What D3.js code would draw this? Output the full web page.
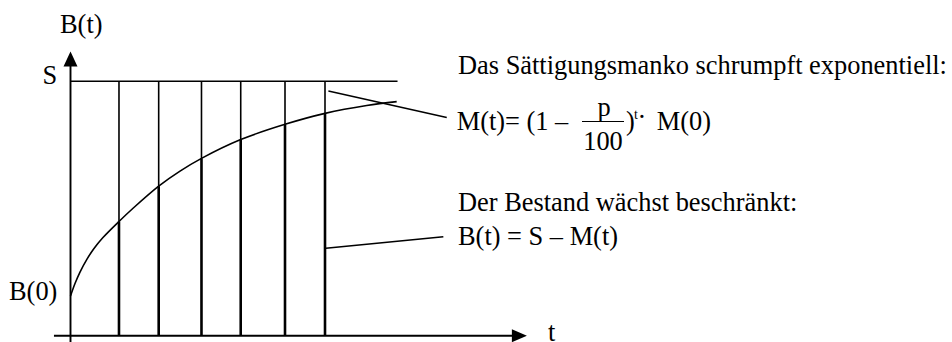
<!DOCTYPE html>
<html>
<head>
<meta charset="utf-8">
<script src="https://cdn.jsdelivr.net/npm/d3@7/dist/d3.min.js"></script>
<style>
  html, body { margin: 0; padding: 0; background: #fff; }
  svg { display: block; }
  text { font-family: "Liberation Serif", "Times New Roman", serif; fill: #000; }
</style>
</head>
<body>
<svg id="chart" width="952" height="342"></svg>
<script>
// ---------- data (t in time steps, B in % of the saturation S) ----------
const saturation = 100;                 // S
const curveT = [0, 0.106, 0.224, 0.389, 0.554, 0.766, 1.143, 1.481, 2.079, 2.582, 3.088, 4.013, 5.057, 6.0, 6.983, 7.69];
const curveB = [15.6, 20.5, 25.0, 30.1, 34.3, 38.6, 44.9, 50.2, 58.8, 64.7, 69.7, 77.1, 83.1, 87.4, 90.5, 92.0];
const stepT = [1.143, 2.079, 3.088, 4.013, 5.057, 6.0];
const stepB = [44.9, 58.8, 69.7, 77.1, 83.1, 87.4];
const sLineEnd = 7.71;
const xAxisRange = [-0.39, 10.76];
const yAxisRange = [-2.5, 111.7];
const leaderM = [[6.08, 96.2], [8.87, 85.8]];
const leaderB = [[6.02, 34.4], [8.79, 38.9]];
const labels = { yAxis: "B(t)", xAxis: "t", s: "S", b0: "B(0)" };

// ---------- scales ----------
const svg = d3.select("#chart");
const x = d3.scaleLinear().domain([0, 6]).range([70.5, 325]);
const y = d3.scaleLinear().domain([0, saturation]).range([335.7, 81.3]);

const g = svg.append("g");

// S line
g.append("line")
  .attr("x1", x(0)).attr("x2", x(sLineEnd))
  .attr("y1", y(saturation)).attr("y2", y(saturation))
  .attr("stroke", "#000").attr("stroke-width", 1.6);

// vertical step lines: thin part above the curve (manko), thick part below (Bestand)
stepT.forEach((t, i) => {
  g.append("line")
    .attr("x1", x(t)).attr("x2", x(t))
    .attr("y1", y(saturation)).attr("y2", y(stepB[i]))
    .attr("stroke", "#000").attr("stroke-width", 1.6);
  g.append("line")
    .attr("x1", x(t)).attr("x2", x(t))
    .attr("y1", y(stepB[i])).attr("y2", y(0))
    .attr("stroke", "#000").attr("stroke-width", 2.6);
});

// curve B(t)
const pts = curveT.map((t, i) => [t, curveB[i]]);
g.append("path")
  .attr("d", d3.line().x(d => x(d[0])).y(d => y(d[1])).curve(d3.curveCatmullRom.alpha(0.5))(pts))
  .attr("fill", "none").attr("stroke", "#000").attr("stroke-width", 1.6);

// axes
const xTip = x(xAxisRange[1]);
const yTip = y(yAxisRange[1]);
g.append("line")
  .attr("x1", x(xAxisRange[0])).attr("x2", xTip - 14)
  .attr("y1", y(0)).attr("y2", y(0))
  .attr("stroke", "#000").attr("stroke-width", 1.9);
g.append("path")
  .attr("d", `M${xTip},${y(0)} L${xTip - 15},${y(0) - 6.5} L${xTip - 15},${y(0) + 6.5} Z`)
  .attr("fill", "#000");
g.append("line")
  .attr("x1", x(0)).attr("x2", x(0))
  .attr("y1", y(yAxisRange[0])).attr("y2", yTip + 14)
  .attr("stroke", "#000").attr("stroke-width", 1.9);
g.append("path")
  .attr("d", `M${x(0)},${yTip} L${x(0) - 7},${yTip + 15} L${x(0) + 7},${yTip + 15} Z`)
  .attr("fill", "#000");

// leader lines
[leaderM, leaderB].forEach(l => {
  g.append("line")
    .attr("x1", x(l[0][0])).attr("y1", y(l[0][1]))
    .attr("x2", x(l[1][0])).attr("y2", y(l[1][1]))
    .attr("stroke", "#000").attr("stroke-width", 1.5);
});

// axis labels
const fs = 26.4;
function txt(s, px, py, size, anchor) {
  return svg.append("text").attr("x", px).attr("y", py)
    .attr("font-size", size || fs).attr("text-anchor", anchor || "start").text(s);
}
txt(labels.yAxis, 60, 33);
txt(labels.s, 42.5, 83.5);
txt(labels.b0, 9, 300);
txt(labels.xAxis, 548, 340.5);

// annotations
const tx = 458;
txt("Das Sättigungsmanko schrumpft exponentiell:", tx, 74.3);
txt("M(t)= (1 –", 456.7, 130);
txt("p", 604, 116, fs, "middle");
svg.append("line").attr("x1", 582).attr("x2", 624).attr("y1", 121.5).attr("y2", 121.5)
  .attr("stroke", "#000").attr("stroke-width", 1.2);
txt("100", 603, 150, fs, "middle");
txt(")", 626, 130);
txt("t", 634, 118.5, 14);
txt("·", 637.5, 126);
txt("M(0)", 656.7, 130);
txt("Der Bestand wächst beschränkt:", tx, 211);
txt("B(t) = S – M(t)", tx, 245);
</script>
</body>
</html>
